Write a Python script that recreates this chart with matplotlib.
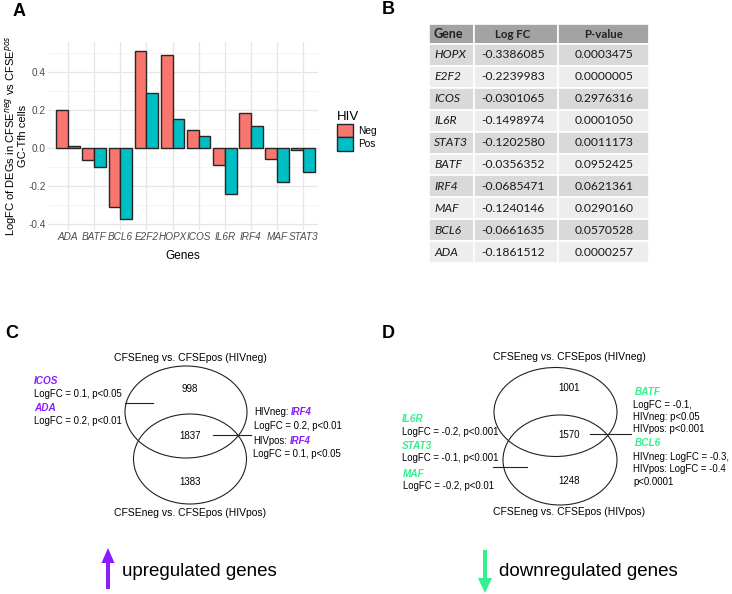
import matplotlib
matplotlib.use("Agg")
import matplotlib.pyplot as plt
import numpy as np
from matplotlib.patches import Ellipse, Rectangle, FancyArrow

plt.rcParams['font.family'] = ['Liberation Sans', 'DejaVu Sans']

# panel A data
genes = ["ADA", "BATF", "BCL6", "E2F2", "HOPX", "ICOS", "IL6R", "IRF4", "MAF", "STAT3"]
neg_fc = [0.200, -0.066, -0.310, 0.510, 0.487, 0.096, -0.092, 0.185, -0.056, -0.009]
pos_fc = [0.012, -0.100, -0.376, 0.287, 0.151, 0.064, -0.240, 0.117, -0.180, -0.127]

# panel B table
table_header = ["Gene", "Log FC", "P-value"]
table_genes = ["HOPX", "E2F2", "ICOS", "IL6R", "STAT3", "BATF", "IRF4", "MAF", "BCL6", "ADA"]
table_logfc = ["-0.3386085", "-0.2239983", "-0.0301065", "-0.1498974", "-0.1202580",
               "-0.0356352", "-0.0685471", "-0.1240146", "-0.0661635", "-0.1861512"]
table_pval = ["0.0003475", "0.0000005", "0.2976316", "0.0001050", "0.0011173",
              "0.0952425", "0.0621361", "0.0290160", "0.0570528", "0.0000257"]

# panels C / D venn counts (top only, shared, bottom only)
up_counts = [998, 1837, 1383]
down_counts = [1001, 1570, 1248]
venn_top = "CFSEneg vs. CFSEpos (HIVneg)"
venn_bottom = "CFSEneg vs. CFSEpos (HIVpos)"

W, H = 732, 594
RED = "#F8766D"
TEAL = "#00BFC4"
PURPLE = "#8a1cff"
GREEN = "#33f08c"

fig = plt.figure(figsize=(W / 100, H / 100), dpi=100)

# overlay axes in pixel coords for B, C, D
ov = fig.add_axes([0, 0, 1, 1])
ov.set_xlim(0, W)
ov.set_ylim(H, 0)
ov.axis("off")
ov.patch.set_visible(False)

# ---------------- Panel A ----------------
axA = fig.add_axes([48 / W, 1 - 230 / H, 270 / W, 188 / H])
x = np.arange(len(genes))
bw = 0.45
axA.bar(x - bw / 2, neg_fc, bw, color=RED, edgecolor="#262626", linewidth=1.0, label="Neg", zorder=3)
axA.bar(x + bw / 2, pos_fc, bw, color=TEAL, edgecolor="#262626", linewidth=1.0, label="Pos", zorder=3)
axA.set_xlim(-0.77, 9.57)
axA.set_ylim(-0.432, 0.558)
axA.set_xticks(x)
axA.set_xticklabels(genes, fontstyle="italic", fontsize=7.2, color="#4d4d4d")
axA.set_yticks([-0.4, -0.2, 0.0, 0.2, 0.4])
axA.set_yticklabels(["-0.4", "-0.2", "0.0", "0.2", "0.4"], fontsize=7.2, color="#4d4d4d")
axA.set_yticks([-0.3, -0.1, 0.1, 0.3, 0.5], minor=True)
axA.tick_params(which="both", length=0, pad=1.5)
axA.grid(which="major", color="#e6e6e6", linewidth=0.9, zorder=0)
axA.grid(which="minor", axis="y", color="#f0f0f0", linewidth=0.5, zorder=0)
for s in axA.spines.values():
    s.set_visible(False)
axA.set_xlabel("Genes", fontsize=8.5, labelpad=6)
axA.set_ylabel("LogFC of DEGs in CFSE$^{neg}$ vs CFSE$^{pos}$\nGC-Tfh cells", fontsize=8, linespacing=0.88)
axA.yaxis.set_label_coords(-0.073, 0.5)

fig.legend(handles=axA.patches[:1] + axA.patches[len(genes):len(genes) + 1], labels=["Neg", "Pos"],
           title="HIV", loc="upper left", bbox_to_anchor=(328 / W, 1 - 102 / H), frameon=False,
           fontsize=7.3, title_fontsize=9.5, handlelength=1.6, handleheight=1.65,
           labelspacing=0.05, handletextpad=0.45, alignment="left")

ov.text(19, 12, "A", fontsize=13, fontweight="bold", ha="center", va="center")

# ---------------- Panel B ----------------
ov.text(388, 9, "B", fontsize=13, fontweight="bold", ha="center", va="center")
col_x = [429, 474, 558, 649]
top = 24
hdr_h = 20
row_h = (263 - 44) / len(table_genes)
for j in range(3):
    ov.add_patch(Rectangle((col_x[j], top), col_x[j + 1] - col_x[j], hdr_h,
                           facecolor="#a3a3a3", edgecolor="white", linewidth=1.2))
tfont = "Lato"
ov.text(434, top + hdr_h / 2, table_header[0], fontsize=9, fontweight="bold", family=tfont,
        ha="left", va="center", color="#222222")
ov.text(513, top + hdr_h / 2, table_header[1], fontsize=8.3, fontweight="bold", family=tfont,
        ha="center", va="center", color="#222222")
ov.text(604, top + hdr_h / 2, table_header[2], fontsize=8.3, fontweight="bold", family=tfont,
        ha="center", va="center", color="#222222")
for i, (g, fc, pv) in enumerate(zip(table_genes, table_logfc, table_pval)):
    y = top + hdr_h + i * row_h
    fc_col = "#d9d9d9" if i % 2 == 0 else "#ededed"
    for j in range(3):
        ov.add_patch(Rectangle((col_x[j], y), col_x[j + 1] - col_x[j], row_h,
                               facecolor=fc_col, edgecolor="white", linewidth=1.2))
    yc = y + row_h / 2
    ov.text(434, yc, g, fontsize=8.7, fontstyle="italic", family=tfont, ha="left", va="center", color="#1a1a1a")
    ov.text(513, yc, fc, fontsize=8.7, family=tfont, ha="center", va="center", color="#1a1a1a")
    ov.text(604, yc, pv, fontsize=8.7, family=tfont, ha="center", va="center", color="#1a1a1a")

renderer = fig.canvas.get_renderer()


def rich(x0, y, parts, size=6.9):
    # draw consecutive text pieces on one line
    for txt, kw in parts:
        t = ov.text(x0, y, txt, fontsize=size, ha="left", va="center", **kw)
        x0 += t.get_window_extent(renderer=renderer).width + 2.5


def venn(cx, counts, top_c, bot_c, label_y):
    ov.add_patch(Ellipse(top_c[:2], top_c[2], top_c[3], fill=False, edgecolor="#222222", linewidth=0.8))
    ov.add_patch(Ellipse(bot_c[:2], bot_c[2], bot_c[3], fill=False, edgecolor="#222222", linewidth=0.8))
    ov.text(cx, label_y[0], venn_top, fontsize=7.5, ha="center", va="center")
    for n, yy in zip(counts, label_y[1:4]):
        ov.text(cx, yy, str(n), fontsize=7, ha="center", va="center")
    ov.text(cx, label_y[4], venn_bottom, fontsize=7.5, ha="center", va="center")


gene_kw_up = dict(color=PURPLE, fontweight="bold", fontstyle="italic")
gene_kw_dn = dict(color=GREEN, fontweight="bold", fontstyle="italic")

# ---------------- Panel C ----------------
ov.text(12, 333, "C", fontsize=13, fontweight="bold", ha="center", va="center")
venn(190, up_counts, (186, 412, 122, 92), (190, 459, 113, 90), [358, 389, 436, 482, 513])
ov.text(34, 381, "ICOS", fontsize=7.2, ha="left", va="center", **gene_kw_up)
ov.text(34, 394, "LogFC = 0.1, p<0.05", fontsize=6.9, ha="left", va="center")
ov.text(34, 408, "ADA", fontsize=7.2, ha="left", va="center", **gene_kw_up)
ov.text(34, 421, "LogFC = 0.2, p<0.01", fontsize=6.9, ha="left", va="center")
ov.plot([125, 153], [403, 403], color="#222222", lw=0.8)
rich(254, 412, [("HIVneg:", {}), ("IRF4", gene_kw_up)])
ov.text(254, 426, "LogFC = 0.2, p<0.01", fontsize=6.9, ha="left", va="center")
rich(253, 441, [("HIVpos:", {}), ("IRF4", gene_kw_up)])
ov.text(253, 454, "LogFC = 0.1, p<0.05", fontsize=6.9, ha="left", va="center")
ov.plot([213, 251], [435, 435], color="#222222", lw=0.8)
ov.add_patch(FancyArrow(108, 589, 0, -41, width=4, head_width=13, head_length=15,
                        length_includes_head=True, color=PURPLE, lw=0))
ov.text(122, 572, "upregulated genes", fontsize=13.5, ha="left", va="center")

# ---------------- Panel D ----------------
ov.text(388, 333, "D", fontsize=13, fontweight="bold", ha="center", va="center")
venn(569, down_counts, (555.5, 412, 123, 89), (560, 460, 114, 90), [357, 388, 435, 481, 512])
ov.text(402, 419, "IL6R", fontsize=7.2, ha="left", va="center", **gene_kw_dn)
ov.text(402, 432, "LogFC = -0.2, p<0.001", fontsize=6.9, ha="left", va="center")
ov.text(402, 446, "STAT3", fontsize=7.2, ha="left", va="center", **gene_kw_dn)
ov.text(402, 458, "LogFC = -0.1, p<0.001", fontsize=6.9, ha="left", va="center")
ov.text(403, 474, "MAF", fontsize=7.2, ha="left", va="center", **gene_kw_dn)
ov.text(403, 486, "LogFC = -0.2, p<0.01", fontsize=6.9, ha="left", va="center")
ov.plot([493, 527], [467, 467], color="#222222", lw=0.8)
ov.text(635, 392, "BATF", fontsize=7.2, ha="left", va="center", **gene_kw_dn)
for yy, s in zip([405, 417, 429], ["LogFC = -0.1,", "HIVneg: p<0.05", "HIVpos: p<0.001"]):
    ov.text(633, yy, s, fontsize=6.9, ha="left", va="center")
ov.text(635, 443, "BCL6", fontsize=7.2, ha="left", va="center", **gene_kw_dn)
for yy, s in zip([457, 469, 482], ["HIVneg: LogFC = -0.3,", "HIVpos: LogFC = -0.4", "p<0.0001"]):
    ov.text(633, yy, s, fontsize=6.9, ha="left", va="center")
ov.plot([590, 631], [434, 434], color="#222222", lw=0.8)
ov.add_patch(FancyArrow(485, 550, 0, 43, width=4, head_width=14, head_length=15,
                        length_includes_head=True, color=GREEN, lw=0))
ov.text(499, 572, "downregulated genes", fontsize=13.5, ha="left", va="center")

fig.savefig("out.png", dpi=100)
